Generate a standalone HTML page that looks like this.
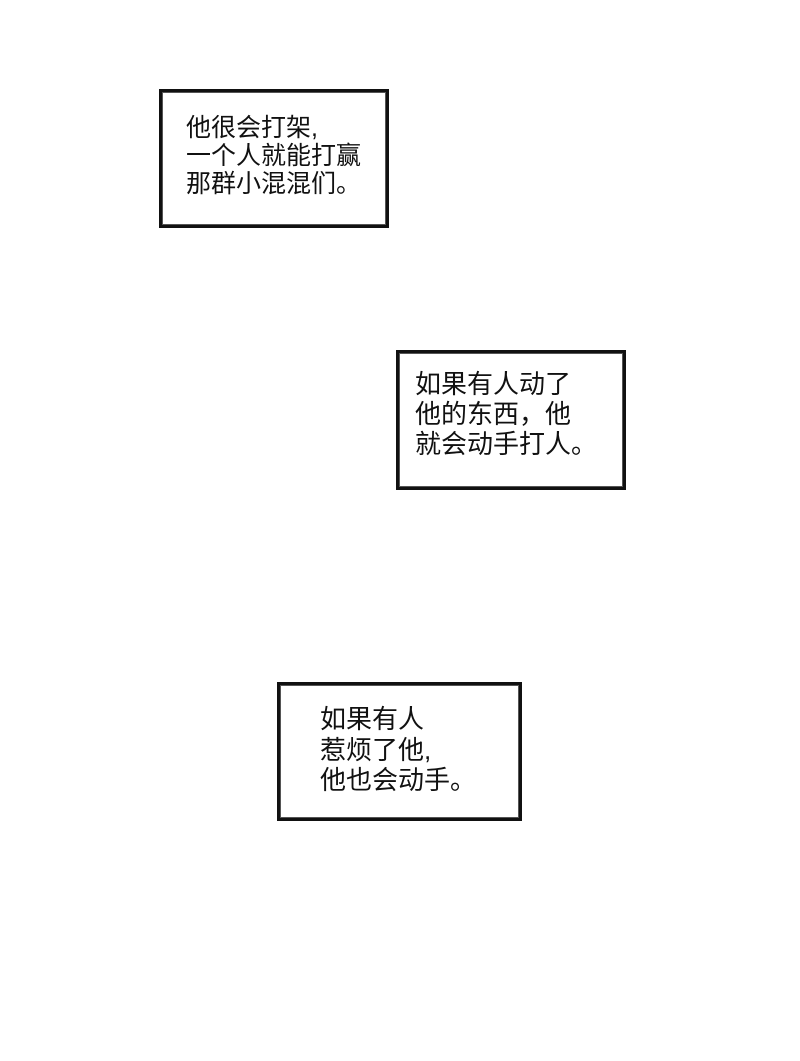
<!DOCTYPE html>
<html><head><meta charset="utf-8"><style>
body{margin:0;width:800px;height:1061px;background:#fff;position:relative;overflow:hidden;font-family:"Liberation Sans","Noto Sans CJK SC",sans-serif;}
.b{position:absolute;border:3px solid #111;box-shadow:inset 0 0 0 1px #555;background:#fff;box-sizing:border-box;}
.t{position:absolute;font-size:25px;color:#111;white-space:nowrap;}
</style></head><body>
<div class="b" style="left:159px;top:89px;width:230px;height:139px"></div>
<div class="t" style="left:186px;top:114px;line-height:28px">他很会打架,<br>一个人就能打赢<br>那群小混混们。</div>
<div class="b" style="left:396px;top:350px;width:230px;height:140px"></div>
<div class="t" style="left:415px;top:369px;line-height:30px;font-size:26px">如果有人动了<br>他的东西，他<br>就会动手打人。</div>
<div class="b" style="left:277px;top:682px;width:245px;height:139px"></div>
<div class="t" style="left:320px;top:704px;line-height:30.5px;font-size:26px">如果有人<br>惹烦了他,<br>他也会动手。</div>
</body></html>
